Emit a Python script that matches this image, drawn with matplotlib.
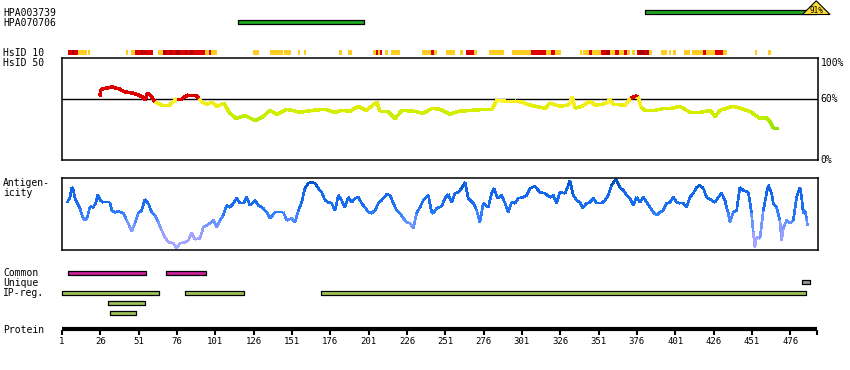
import matplotlib
matplotlib.use('Agg')
import matplotlib.pyplot as plt
import numpy as np
from matplotlib.collections import LineCollection
from matplotlib.colors import LinearSegmentedColormap, Normalize
from matplotlib.patches import Polygon

plt.rcParams['font.family'] = ['DejaVu Sans Mono', 'DejaVu Sans']

# ---- data (residue numbers / scores) ----
protein_len = 493
tick_res = list(range(1, 477, 25))

hpa003739 = (381, 493)
hpa003739_pct = '91%'
hpa070706 = (116, 198)

hsid10_yellow = [(11.4, 17.3), (18, 19.3), (42.7, 44.1), (46, 48.6), (63.6, 66.9), (94.3, 96.9),
                 (98.2, 102.1), (125.6, 129.5), (136.7, 145.2), (145.8, 150.4), (154.9, 156.2),
                 (158.9, 160.2), (181.7, 183.6), (187.6, 190.2), (203.9, 209.7), (211.7, 213.7),
                 (215.6, 221.5), (235.6, 245.4), (251.5, 257.2), (260.6, 262.4), (269.7, 271.4),
                 (279.5, 289.3), (294.5, 326.2), (338.9, 340.2), (341.1, 371.8), (373, 374.8),
                 (376.3, 385.6), (392, 395.5), (397, 398), (399.8, 401.5), (406.7, 410.6),
                 (412, 434.6), (453, 454.1), (461.7, 463.5)]
hsid10_red = [(4.9, 11.4), (48.6, 60.4), (66.9, 94.3), (96.9, 98.2), (205.8, 207.1), (208.4, 209.7),
              (241.7, 243.7), (264.3, 269.7), (306.9, 316.7), (319.9, 322.3), (344.8, 346.6),
              (352.7, 358.2), (362, 364.4), (367.9, 369.7), (376.3, 383.7), (419.3, 421.1),
              (427.2, 432)]
hsid10_dark = [(7.5, 8.8), (52.5, 53.8), (55.1, 55.8), (66.9, 68.8), (71.5, 72.8), (75.4, 78),
               (81.2, 82.5), (84.5, 86.5), (356, 358.2), (377.6, 381.3), (382.8, 383.7)]

hsid50_pos = [25.8, 26.2, 27.7, 33.6, 38.2, 42.1, 46.7, 51.2, 53.5, 55.1, 56.8, 59.1, 61.7, 66.2,
              70.8, 73.4, 76.0, 79.3, 83.2, 88.4, 90.4, 92.3, 95.6, 98.8, 102.1, 106.7, 109.9,
              114.5, 120.4, 126.9, 131.5, 136.7, 141.2, 147.8, 156.2, 164.7, 172.6, 179.1, 183.7,
              188.9, 194.1, 199.3, 206.5, 208.4, 213.7, 218.2, 222.8, 231.3, 236.5, 242.4, 247.6,
              254.1, 259.3, 268.4, 276.9, 281.5, 284.7, 289.9, 296.5, 301.1, 304.3, 309.5, 316.1,
              319.3, 325.9, 330.4, 332.4, 333.7, 335.6, 340.2, 345.4, 348.7, 353.9, 357.2, 358.5,
              360.4, 368.3, 372.2, 375.4, 376.7, 378.7, 381.3, 387.8, 394.4, 398.9, 404.1, 410.7,
              417.2, 423.7, 427.0, 430.2, 438.7, 443.3, 449.8, 456.3, 460.2, 462.8, 464.8, 468.1]
hsid50_val = [63, 69, 70, 72, 70, 67, 66, 64, 62, 59, 66, 63, 57, 54, 54, 57, 60.5, 60.5, 64, 64,
              60, 57, 55, 57, 53, 56, 47, 41, 44, 39, 42, 49, 45, 50, 47, 49, 50, 47, 49, 48, 53,
              49, 57, 48, 48, 41, 49, 48, 46, 51, 50, 45, 48, 49, 50, 50, 59, 58, 58, 57, 55, 53,
              51, 56, 53, 54, 56, 62, 51, 53, 58, 54, 55, 57, 60, 55, 54, 61, 63, 62, 52, 49, 49,
              51, 51, 53, 47, 47, 49, 43, 49, 53, 51, 48, 41, 42, 38, 32, 32]

agn_pos = [4.5, 6.2, 7.3, 8.4, 9.5, 11.0, 12.7, 14.5, 16.0, 17.5, 19.3, 21.4, 23.2, 24.3, 25.8,
           28.0, 30.1, 32.3, 33.4, 35.6, 37.8, 41.0, 43.2, 45.4, 46.4, 48.6, 50.8, 53.0, 55.1,
           57.3, 59.5, 61.7, 63.8, 66.0, 68.2, 70.4, 73.6, 75.8, 78.0, 81.2, 83.4, 85.6, 87.8,
           91.0, 93.2, 95.4, 97.5, 99.7, 101.9, 104.1, 106.2, 108.4, 110.6, 112.8, 115.0, 117.1,
           119.3, 121.5, 123.6, 126.9, 129.1, 132.3, 134.5, 136.7, 140.0, 143.2, 145.4, 147.6,
           150.8, 153.0, 155.2, 157.3, 159.5, 161.7, 163.9, 166.0, 168.2, 170.4, 172.6, 174.7,
           176.9, 179.1, 181.3, 183.4, 185.6, 187.8, 190.0, 192.1, 194.3, 196.5, 198.6, 200.8,
           203.0, 205.2, 207.3, 209.5, 212.8, 215.0, 217.1, 219.3, 221.5, 223.7, 225.8, 228.0,
           230.2, 232.3, 234.5, 236.7, 240.0,
           242.1, 243.2, 245.4, 248.6, 250.8, 253.0, 255.2, 257.3, 259.5, 261.7, 263.9, 266.0,
           269.3, 271.5, 273.6, 275.8, 279.1, 281.2, 282.8, 285.0, 287.8, 290.0, 292.1, 294.3,
           296.5, 298.6, 301.9, 304.1, 306.3, 309.5, 312.8, 316.0, 319.3, 321.5, 323.6, 325.8,
           329.1, 331.3, 332.3, 334.5, 336.7, 338.9, 340.6, 343.2, 345.4, 347.6, 349.7, 353.0,
           355.2, 357.3, 359.5, 362.3, 365.0, 367.1, 369.3, 371.5, 373.7, 375.8, 378.0, 380.2,
           382.4, 384.5, 386.7, 388.9, 391.0, 393.2, 395.4, 397.6, 399.7, 401.9, 404.1, 406.3,
           408.4, 410.6, 412.8, 415.0, 417.1, 419.3, 421.5, 424.8, 426.9, 429.1, 431.3, 433.5,
           434.5, 435.6, 436.7, 438.9, 441.1, 443.2, 445.4, 448.7, 449.8, 450.8, 451.9, 453.0,
           454.1, 456.3, 458.5, 460.6, 461.7, 463.9, 465.0, 467.2, 469.3, 470.4, 471.5, 473.7,
           475.8, 478.0, 480.2, 482.4, 483.5, 484.5, 485.6, 486.7, 487.2]
agn_val = [48, 53, 63, 60, 52, 47, 42, 33, 30, 33, 44, 43, 48, 56, 50, 48, 48, 48, 40, 38,
           39, 37, 30, 23, 19, 27, 37, 40, 51, 47, 38, 35, 28, 20, 13, 8, 7, 2, 7, 8,
           10, 17, 11, 12, 23, 25, 27, 30, 23, 30, 35, 45, 43, 47, 52, 47, 47, 53, 45, 50,
           45, 42, 38, 32, 38, 38, 38, 30, 32, 28, 40, 48, 62, 67, 68, 67, 62, 58, 50, 48,
           47, 40, 55, 50, 43, 53, 48, 52, 53, 47, 43, 38, 37, 40, 47, 50, 56, 55, 47, 40,
           37, 32, 28, 27, 22, 37, 43, 50, 55,
           38, 37, 42, 44, 52, 56, 48, 57, 58, 62, 68, 52, 47, 40, 28, 47, 43, 57, 62, 52,
           55, 47, 38, 48, 47, 52, 53, 55, 62, 64, 58, 57, 53, 55, 47, 58, 57, 65, 70, 55,
           50, 48, 42, 47, 48, 52, 47, 47, 50, 55, 65, 71, 63, 60, 55, 52, 45, 53, 48, 53,
           48, 43, 38, 35, 38, 40, 47, 48, 53, 48, 47, 47, 43, 53, 57, 63, 65, 62, 53, 50,
           48, 53, 57, 50, 43, 37, 28, 38, 40, 63, 60, 58, 48, 37, 18, 3, 13, 12, 40, 57,
           65, 57, 47, 43, 30, 10, 22, 30, 27, 30, 53, 63, 53, 37, 40, 32, 25]

common = [(5, 56), (69, 95)]
unique = [(484, 489)]
ipreg_rows = [[(1, 64), (81, 120), (170, 486)], [(31, 55)], [(32, 49)]]

# ---- layout helpers (pixel space of the 850x370 picture) ----
W, H = 850, 370
fig = plt.figure(figsize=(W / 100, H / 100), dpi=100)


def rx(px):
    return 1 + (px - 62) / 1.533


def fig_box(x0, y0, x1, y1):
    return fig.add_axes([x0 / W, 1 - y1 / H, (x1 - x0) / W, (y1 - y0) / H])


base = fig.add_axes([0, 0, 1, 1])
base.set_xlim(rx(0), rx(W))
base.set_ylim(H, 0)
base.axis('off')

fs = 7
labels = [('HPA003739', 13), ('HPA070706', 22.5), ('HsID 10', 52.5), ('HsID 50', 62.5),
          ('Antigen-', 183.5), ('icity', 192.5), ('Common', 273), ('Unique', 283),
          ('IP-reg.', 293), ('Protein', 330)]
for txt, y in labels:
    base.text(rx(3), y, txt, fontsize=fs, va='center', ha='left')


def bars(spans, y, h, color, lw=0.9, ec='black'):
    base.broken_barh([(s, e - s) for s, e in spans], (y, h), facecolors=color,
                     edgecolors=ec, linewidth=lw)


# antibodies
bars([hpa070706], 20, 4.3, '#22aa22')
bars([hpa003739], 10, 4.3, '#22aa22')
end = hpa003739[1]
tri = Polygon([(end - 9, 14.5), (end, 0.8), (end + 9, 14.5)], closed=True,
              facecolor='#ffdd33', edgecolor='black', lw=0.8)
base.add_patch(tri)
base.text(end, 10.3, hpa003739_pct, fontsize=5.5, ha='center', va='center')

# HsID 10
bars(hsid10_yellow, 49.8, 5.3, '#ffcc22', lw=0, ec='none')
bars(hsid10_red, 49.8, 5.3, '#dd0000', lw=0, ec='none')
bars(hsid10_dark, 49.8, 5.3, '#aa0000', lw=0, ec='none')

# common / unique / IP-reg
bars(common, 270.5, 4, '#cc2299')
bars(unique, 280.2, 4, '#999999')
for i, row in enumerate(ipreg_rows):
    bars(row, 290.5 + 10 * i, 4, '#9fc35a')

# protein axis
base.plot([1, protein_len + 0.5], [329.3, 329.3], color='black', lw=3.0, solid_capstyle='butt')
for t in tick_res + [protein_len + 0.3]:
    base.plot([t, t], [330, 335], color='black', lw=1.5, solid_capstyle='butt')
for t in tick_res:
    base.text(t, 341.5, str(t), fontsize=6.5, ha='center', va='center')

# ---- HsID 50 panel ----
ax50 = fig_box(61.5, 58.3, 817.5, 160.3)
ax50.set_xlim(rx(61.5), rx(817.5))
ax50.set_ylim(0, 100)
ax50.set_xticks([])
ax50.set_yticks([])
for s in ax50.spines.values():
    s.set_linewidth(1.1)
ax50.axhline(60, color='black', lw=1.0)

x = np.array(hsid50_pos)
y = np.array(hsid50_val)
segs = np.stack([np.column_stack([x[:-1], y[:-1]]), np.column_stack([x[1:], y[1:]])], axis=1)
mid = (y[:-1] + y[1:]) / 2
green_cmap = LinearSegmentedColormap.from_list(
    'hsid', [(0, '#88dd00'), (0.27, '#aaee00'), (0.5, '#ccee00'), (0.73, '#ddee00'),
             (0.93, '#ffee22'), (1, '#ffff33')])
cols = [('#dd0000' if m >= 60 else green_cmap(np.clip((m - 30) / 30, 0, 1))) for m in mid]
ax50.add_collection(LineCollection(segs, colors=cols, linewidths=1.8, capstyle='butt',
                                   antialiaseds=False))

tr = ax50.get_yaxis_transform()
ax50.text(1.004, 100, '100%', transform=tr, fontsize=fs, va='top', ha='left')
ax50.text(1.004, 60, '60%', transform=tr, fontsize=fs, va='center', ha='left')
ax50.text(1.004, 0, '0%', transform=tr, fontsize=fs, va='center', ha='left')

# ---- antigenicity panel ----
axa = fig_box(61.5, 178.3, 817.5, 250.3)
axa.set_xlim(rx(61.5), rx(817.5))
axa.set_ylim(0, 72)
axa.set_xticks([])
axa.set_yticks([])
for s in axa.spines.values():
    s.set_linewidth(1.1)

x = np.array(agn_pos)
y = np.array(agn_val)
segs = np.stack([np.column_stack([x[:-1], y[:-1]]), np.column_stack([x[1:], y[1:]])], axis=1)
mid = (y[:-1] + y[1:]) / 2
blue_cmap = LinearSegmentedColormap.from_list(
    'agn', [(0, '#aaaaff'), (0.2, '#a0a0ff'), (0.35, '#7799ff'), (0.5, '#3380ff'),
            (0.62, '#1a6eee'), (0.83, '#1166ee'), (0.92, '#0055cc'), (1, '#0044aa')])
lc = LineCollection(segs, cmap=blue_cmap, norm=Normalize(0, 72), linewidths=1.2,
                    antialiaseds=False)
lc.set_array(mid)
axa.add_collection(lc)

fig.savefig('out.png', dpi=100)
